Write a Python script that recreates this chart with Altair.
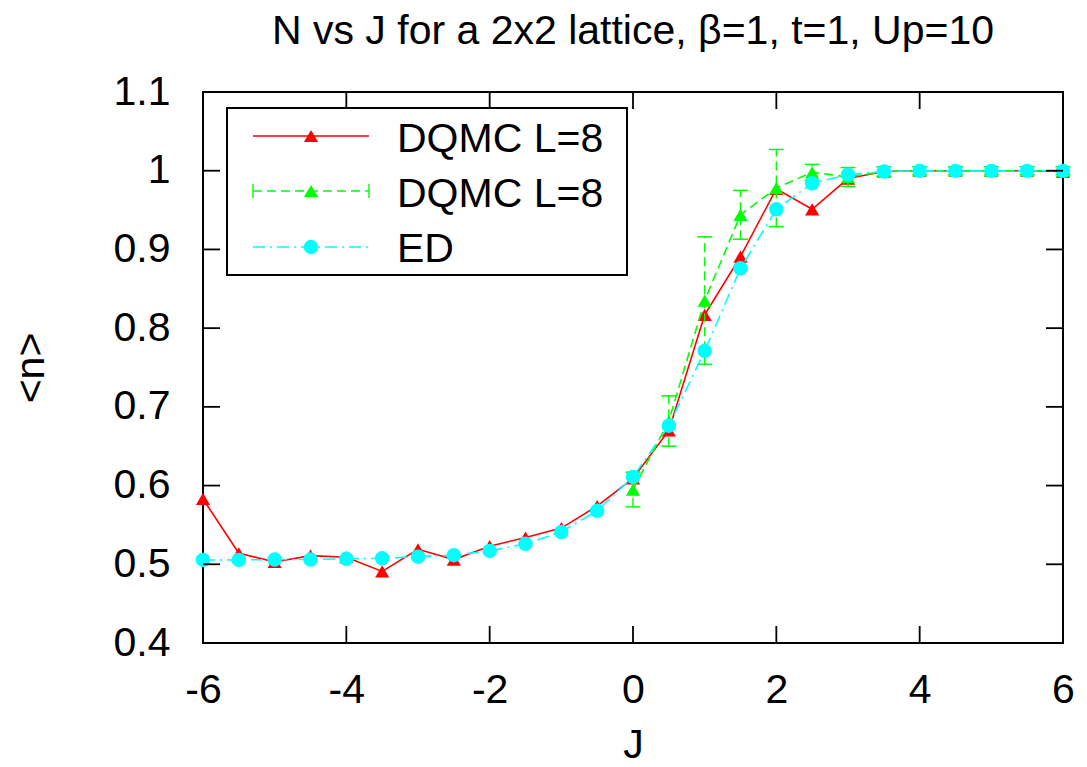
import altair as alt
import pandas as pd

# ---------------- data ----------------
J = [-6.0, -5.5, -5.0, -4.5, -4.0, -3.5, -3.0, -2.5, -2.0, -1.5, -1.0, -0.5,
     0.0, 0.5, 1.0, 1.5, 2.0, 2.5, 3.0, 3.5, 4.0, 4.5, 5.0, 5.5, 6.0]
DQMC_RED = [0.583, 0.514, 0.503, 0.511, 0.509, 0.491, 0.519, 0.506, 0.523, 0.534,
            0.546, 0.574, 0.609, 0.670, 0.817, 0.891, 0.977, 0.951, 0.990, 0.999,
            1.000, 1.000, 1.000, 1.000, 0.999]
ED = [0.5055, 0.5055, 0.506, 0.506, 0.507, 0.5076, 0.5097, 0.5115, 0.517, 0.526,
      0.541, 0.568, 0.611, 0.676, 0.771, 0.876, 0.951, 0.984, 0.995, 0.999,
      0.9998, 0.9998, 0.9998, 0.9998, 0.9998]
J_GREEN = [0.0, 0.5, 1.0, 1.5, 2.0, 2.5, 3.0, 3.5, 4.0, 4.5, 5.0, 5.5, 6.0]
DQMC_GREEN = [0.595, 0.682, 0.835, 0.944, 0.978, 0.998, 0.992, 0.999, 1.000,
              1.000, 1.000, 1.000, 1.000]
GREEN_ERR = [0.022, 0.032, 0.081, 0.031, 0.049, 0.010, 0.012, 0.006, 0.005,
             0.005, 0.005, 0.005, 0.005]

X_TICKS = [-6, -4, -2, 0, 2, 4, 6]
Y_TICKS = [0.4, 0.5, 0.6, 0.7, 0.8, 0.9, 1, 1.1]
TITLE = "N vs J for a 2x2 lattice, \u03b2=1, t=1, Up=10"
X_TITLE = "J"
Y_TITLE = "<n>"
LEGEND_LABELS = ["DQMC L=8", "DQMC L=8", "ED"]

# ---------------- styling ----------------
W, H = 860, 551
FONT = "Liberation Sans"
FS = 41
RED, GREEN, CYAN = "#ff0000", "#00ff00", "#00ffff"
GREEN_DASH = [9, 5]
CYAN_DASH = [12, 5, 2, 5]
TICK_LEN = 17
TRI_SIZE = 200
CIRC_SIZE = 210

xscale = alt.Scale(domain=[-6, 6], nice=False, zero=False)
yscale = alt.Scale(domain=[0.4, 1.1], nice=False, zero=False)

xaxis = alt.Axis(values=X_TICKS, ticks=False, tickSize=0, domain=False, grid=False,
                 labelFont=FONT, labelFontSize=FS, labelColor="black",
                 labelPadding=59, labelBaseline="alphabetic", labelFlush=False,
                 labelOverlap=False, labelExpr="'' + datum.value",
                 titleFont=FONT, titleFontSize=FS, titleFontWeight="normal",
                 titleColor="black", titleX=W / 2, titleY=114,
                 titleBaseline="alphabetic", titleAlign="center")
yaxis = alt.Axis(values=Y_TICKS, ticks=False, tickSize=0, domain=False, grid=False,
                 labelFont=FONT, labelFontSize=FS, labelColor="black",
                 labelPadding=33, labelBaseline="middle", labelFlush=False,
                 labelOverlap=False, labelExpr="'' + datum.value",
                 titleFont=FONT, titleFontSize=FS, titleFontWeight="normal",
                 titleColor="black", titleAngle=270, titleX=-160, titleY=H / 2,
                 titleBaseline="alphabetic", titleAlign="center")

X = alt.X("J:Q", scale=xscale, axis=xaxis, title=X_TITLE)
Y = alt.Y("n:Q", scale=yscale, axis=yaxis, title=Y_TITLE)

red_df = pd.DataFrame({"J": J, "n": DQMC_RED})
ed_df = pd.DataFrame({"J": J, "n": ED})
green_df = pd.DataFrame({"J": J_GREEN, "n": DQMC_GREEN, "err": GREEN_ERR})
xt_df = pd.DataFrame({"J": X_TICKS})
yt_df = pd.DataFrame({"n": Y_TICKS})

# ---------------- data layers ----------------
red_line = alt.Chart(red_df).mark_line(color=RED, strokeWidth=1.6).encode(x=X, y=Y)
red_pts = alt.Chart(red_df).mark_point(shape="triangle-up", filled=True, size=TRI_SIZE,
                                       color=RED, opacity=1).encode(x=X, y=Y)

green_base = alt.Chart(green_df).transform_calculate(
    lo="datum.n - datum.err", hi="datum.n + datum.err")
green_bar = green_base.mark_rule(color=GREEN, strokeWidth=1.4, strokeDash=GREEN_DASH).encode(
    x=X, y=alt.Y("lo:Q", scale=yscale, axis=yaxis, title=Y_TITLE), y2="hi:Q")
green_cap_lo = green_base.mark_tick(color=GREEN, orient="horizontal", size=15,
                                    thickness=1.5, opacity=1).encode(
    x=X, y=alt.Y("lo:Q", scale=yscale, axis=yaxis, title=Y_TITLE))
green_cap_hi = green_base.mark_tick(color=GREEN, orient="horizontal", size=15,
                                    thickness=1.5, opacity=1).encode(
    x=X, y=alt.Y("hi:Q", scale=yscale, axis=yaxis, title=Y_TITLE))
green_line = alt.Chart(green_df).mark_line(color=GREEN, strokeWidth=1.6,
                                           strokeDash=GREEN_DASH).encode(x=X, y=Y)
green_pts = alt.Chart(green_df).mark_point(shape="triangle-up", filled=True, size=TRI_SIZE,
                                           color=GREEN, opacity=1).encode(x=X, y=Y)

ed_line = alt.Chart(ed_df).mark_line(color=CYAN, strokeWidth=1.6,
                                     strokeDash=CYAN_DASH).encode(x=X, y=Y)
ed_pts = alt.Chart(ed_df).mark_point(shape="circle", filled=True, size=CIRC_SIZE,
                                     color=CYAN, opacity=1).encode(x=X, y=Y)

# ---------------- inward ticks (mirror on all sides) ----------------
tick_style = dict(color="black", strokeWidth=1.8)
xt_bottom = alt.Chart(xt_df).mark_rule(**tick_style).encode(
    x=X, y=alt.value(H), y2=alt.value(H - TICK_LEN))
xt_top = alt.Chart(xt_df).mark_rule(**tick_style).encode(
    x=X, y=alt.value(0), y2=alt.value(TICK_LEN))
yt_left = alt.Chart(yt_df).mark_rule(**tick_style).encode(
    y=Y, x=alt.value(0), x2=alt.value(TICK_LEN))
yt_right = alt.Chart(yt_df).mark_rule(**tick_style).encode(
    y=Y, x=alt.value(W), x2=alt.value(W - TICK_LEN))

# ---------------- legend box (gnuplot style key) ----------------
one = pd.DataFrame({"k": [0]})
box = alt.Chart(one).mark_rect(fill="white", stroke="black", strokeWidth=2).encode(
    x=alt.value(24), x2=alt.value(424), y=alt.value(16), y2=alt.value(183))

legend_layers = [box]
rows = [
    (44, RED, None, "triangle-up", TRI_SIZE, 60),
    (99, GREEN, GREEN_DASH, "triangle-up", TRI_SIZE, 115),
    (155, CYAN, CYAN_DASH, "circle", CIRC_SIZE, 170),
]
for i, (ry, col, dash, shape, size, tby) in enumerate(rows):
    lkw = dict(color=col, strokeWidth=1.6)
    if dash is not None:
        lkw["strokeDash"] = dash
    legend_layers.append(alt.Chart(one).mark_rule(**lkw).encode(
        x=alt.value(50), x2=alt.value(166), y=alt.value(ry)))
    if i == 1:
        for ex in (50, 166):
            legend_layers.append(alt.Chart(one).mark_rule(color=col, strokeWidth=1.4).encode(
                x=alt.value(ex), y=alt.value(ry - 7), y2=alt.value(ry + 7)))
    legend_layers.append(alt.Chart(one).mark_point(shape=shape, filled=True, size=size,
                                                   color=col, opacity=1).encode(
        x=alt.value(108), y=alt.value(ry)))
    legend_layers.append(alt.Chart(pd.DataFrame({"t": [LEGEND_LABELS[i]]})).mark_text(
        font=FONT, fontSize=FS, color="black", align="left", baseline="alphabetic").encode(
        x=alt.value(194), y=alt.value(tby), text="t:N"))

chart = alt.layer(
    red_line, red_pts,
    green_bar, green_cap_lo, green_cap_hi, green_line, green_pts,
    ed_line, ed_pts,
    xt_bottom, xt_top, yt_left, yt_right,
    *legend_layers,
).properties(
    width=W, height=H,
    title=alt.TitleParams(TITLE, font=FONT, fontSize=FS, fontWeight="normal",
                          color="black", anchor="middle", offset=18),
    padding={"left": 203, "top": 92, "right": 24, "bottom": 124},
    autosize=alt.AutoSizeParams(type="none"),
    background="white",
).configure_view(stroke="black", strokeWidth=2)

chart.save("out.html", embed_options={"renderer": "svg", "actions": False})
